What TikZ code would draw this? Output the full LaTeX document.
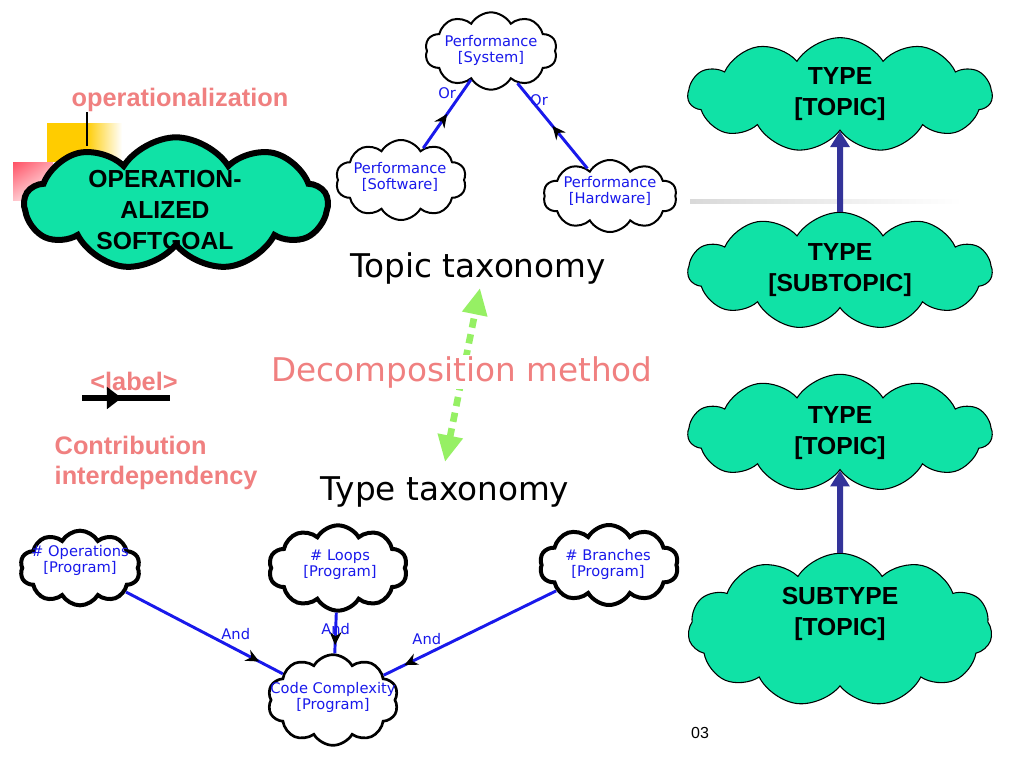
\documentclass[tikz,border=0pt]{standalone}
\usepackage{fontspec}
\setmainfont{Liberation Sans}
\newfontfamily\verafont{DejaVu Sans}
\usetikzlibrary{shapes.symbols,arrows.meta,decorations.markings,shadings}
\definecolor{cloudgreen}{RGB}{16,226,166}
\definecolor{pinktext}{RGB}{240,128,128}
\definecolor{linkblue}{RGB}{25,25,235}
\definecolor{arrowblue}{RGB}{51,51,153}
\definecolor{dotgreen}{RGB}{150,240,100}
\definecolor{slideyellow}{RGB}{255,204,0}
\definecolor{slidered}{RGB}{255,80,100}
\tikzset{
  greencloud/.style={cloud, cloud puffs=11, cloud puff arc=115, cloud ignores aspect,
    draw=black, fill=cloudgreen, inner sep=0pt},
  perfcloud/.style={cloud, cloud puffs=10, cloud puff arc=120, cloud ignores aspect,
    draw=black, line width=1.5pt, fill=white, inner sep=0pt},
  greentext/.style={font=\bfseries\fontsize{18.5}{23.5}\selectfont, align=center},
  bluetext/.style={text=linkblue, font=\verafont\fontsize{11}{12}\selectfont, align=center, inner sep=0pt},
  pinklabel/.style={text=pinktext, font=\bfseries\fontsize{19}{22.5}\selectfont, align=left},
  taxtitle/.style={font=\verafont\fontsize{24.5}{28}\selectfont},
  linkline/.style={draw=linkblue, line width=2.2pt, postaction={decorate},
    decoration={markings, mark=at position #1 with {\arrow[black]{Stealth[length=10pt,width=9pt]}}}},
  typearrow/.style={draw=arrowblue, line width=4.5pt, -{Triangle[length=12pt,width=14pt]}},
  dotarrow/.style={draw=dotgreen, line width=5pt, dash pattern=on 7pt off 5pt,
    {Triangle[length=20pt,width=18pt]}-{Triangle[length=20pt,width=18pt]}},
  legendarrow/.style={line width=4pt, postaction={decorate},
    decoration={markings, mark=at position 0.45 with {\arrow{Triangle[length=11pt,width=16pt]}}}}
}
\begin{document}
\begin{tikzpicture}[x=0.75pt, y=-0.75pt]
\fill[white] (0,0) rectangle (1024,768);
\useasboundingbox (0,0) rectangle (1024,768);
% slide corner and rule
\fill[slideyellow] (47,123) rectangle (86,162);
\shade[left color=slideyellow, right color=white] (86,123) rectangle (122,162);
\shade[upper left=slidered, upper right=slidered!55, lower left=slidered!35, lower right=white] (13,162) rectangle (53,200);
\draw[line width=1.5pt] (87,112) -- (87,146);
\shade[left color=black!15, right color=white] (690,199) rectangle (962,203);

% operationalized softgoal
\node[pinklabel] (opz) at (180,100) {operationalization};
\node[greencloud, cloud puffs=9, line width=4.5pt, minimum width=227pt, minimum height=100pt] (osg) at (176,204) {};
\node[greentext] (osgtxt) at (165,210) {OPERATION-\\ALIZED\\SOFTGOAL};

% topic taxonomy
\node[perfcloud, minimum width=99pt, minimum height=58pt] (sys) at (491,51) {};
\node[perfcloud, minimum width=98pt, minimum height=60pt] (sw) at (401,180) {};
\node[perfcloud, minimum width=100pt, minimum height=54pt] (hw) at (610,196) {};
\draw[linkline=0.5] (sw) -- (sys) node[bluetext, pos=0.8, anchor=east, xshift=-3pt] (or1) {Or};
\draw[linkline=0.5] (hw) -- (sys) node[bluetext, pos=0.8, anchor=west, xshift=-2pt] (or2) {Or};
\node[bluetext] (systxt) at (491,50) {Performance\\{[System]}};
\node[bluetext] (swtxt) at (400,177) {Performance\\{[Software]}};
\node[bluetext] (hwtxt) at (610,191) {Performance\\{[Hardware]}};
\node[taxtitle] (toptax) at (478,268) {Topic taxonomy};

% decomposition method
\node[taxtitle] (typtax) at (445,492) {Type taxonomy};
\coordinate (dmlow) at (445,462);
\coordinate (dmup) at (480,288);
\draw[dotarrow] (dmlow) -- (dmup);
\node[taxtitle, text=pinktext, fill=white, inner sep=1pt] (decomp) at (462,372) {Decomposition method};

% legend
\node[pinklabel] (lbl) at (134,381) {<label>};
\coordinate (lgA) at (82,398);
\coordinate (lgB) at (170,398);
\draw[legendarrow] (lgA) -- (lgB);
\node[pinklabel, anchor=west] (contrib) at (50,463) {Contribution\\interdependency};

% type taxonomy
\node[perfcloud, line width=3pt, minimum width=90pt, minimum height=56pt] (ops) at (80,568) {};
\node[perfcloud, line width=3pt, minimum width=104pt, minimum height=64pt] (loops) at (338,568) {};
\node[perfcloud, line width=3pt, minimum width=104pt, minimum height=60pt] (brs) at (609,565) {};
\node[perfcloud, line width=2pt, minimum width=98pt, minimum height=68pt] (cc) at (333,700) {};
\draw[linkline=0.85] (ops) -- (cc) node[bluetext, pos=0.7, above, yshift=6pt] (and1) {And};
\draw[linkline=0.8] (loops) -- (cc) node[bluetext, pos=0.4] (and2) {And};
\draw[linkline=0.88] (brs) -- (cc) node[bluetext, pos=0.75, above, yshift=6pt] (and3) {And};
\node[bluetext] (opstxt) at (80,560) {\# Operations\\{[Program]}};
\node[bluetext] (loopstxt) at (340,565) {\# Loops\\{[Program]}};
\node[bluetext] (brstxt) at (608,564) {\# Branches\\{[Program]}};
\node[bluetext] (cctxt) at (333,697) {Code Complexity\\{[Program]}};

% type / topic refinement
\node[greencloud, line width=0.8pt, minimum width=228pt, minimum height=86pt] (top1) at (840,95) {};
\node[greencloud, line width=0.8pt, minimum width=228pt, minimum height=88pt] (sub1) at (840,271) {};
\node[greencloud, line width=0.8pt, minimum width=228pt, minimum height=88pt] (top2) at (840,433) {};
\node[greencloud, line width=0.8pt, minimum width=228pt, minimum height=115pt] (sub2) at (840,630) {};
\draw[typearrow] (sub1) -- (top1);
\draw[typearrow] (sub2) -- (top2);
\node[greentext] (top1txt) at (840,94) {TYPE\\{[TOPIC]}};
\node[greentext] (sub1txt) at (840,270) {TYPE\\{[SUBTOPIC]}};
\node[greentext] (top2txt) at (840,433) {TYPE\\{[TOPIC]}};
\node[greentext] (sub2txt) at (840,614) {SUBTYPE\\{[TOPIC]}};
\node[font=\fontsize{12}{14}\selectfont] (pgno) at (700,733) {03};
\end{tikzpicture}
\end{document}
